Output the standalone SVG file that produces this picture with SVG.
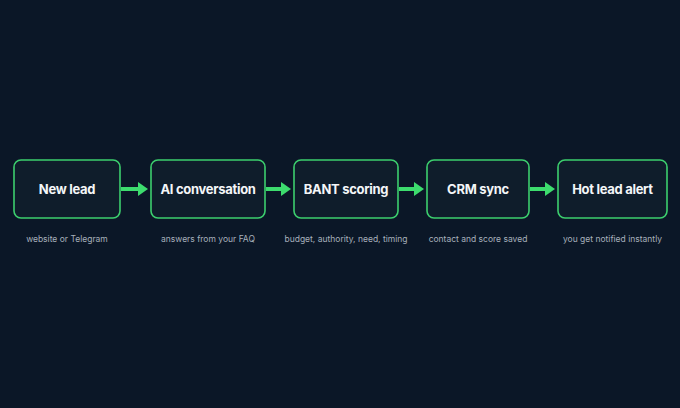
<svg xmlns="http://www.w3.org/2000/svg" width="680" height="408" viewBox="0 0 680 408">
<defs>
<style>
.box{fill:#0f1d2b;stroke:#3ccf6e;stroke-width:1.6}
.t{font-family:"Inter","Liberation Sans",sans-serif;font-weight:700;font-size:13px;letter-spacing:-0.3px;fill:#f4f6f8;text-anchor:middle}
.s{font-family:"Inter","Liberation Sans",sans-serif;font-size:8.5px;fill:#a7b0bb;text-anchor:middle}
.c{stroke:#3ddc6e;stroke-width:4;fill:none}
</style>
<marker id="ah" markerWidth="10" markerHeight="14" refX="0" refY="7" orient="auto" markerUnits="userSpaceOnUse">
<path d="M0,0 L10,7 L0,14 Z" fill="#3ddc6e"/>
</marker>
</defs>
<rect width="680" height="408" fill="#0b1727"/>
<g id="connectors">
<line class="c" x1="121" y1="189" x2="138" y2="189" marker-end="url(#ah)"/>
<line class="c" x1="266" y1="189" x2="281" y2="189" marker-end="url(#ah)"/>
<line class="c" x1="399" y1="189" x2="414" y2="189" marker-end="url(#ah)"/>
<line class="c" x1="530" y1="189" x2="545" y2="189" marker-end="url(#ah)"/>
</g>
<g id="n1"><rect class="box" x="14" y="160" width="106" height="58" rx="7"/><text class="t" x="67" y="193.5">New lead</text><text class="s" x="67" y="241.5">website or Telegram</text></g>
<g id="n2"><rect class="box" x="151" y="160" width="114" height="58" rx="7"/><text class="t" x="208" y="193.5">AI conversation</text><text class="s" x="208" y="241.5">answers from your FAQ</text></g>
<g id="n3"><rect class="box" x="294" y="160" width="104" height="58" rx="7"/><text class="t" x="346" y="193.5">BANT scoring</text><text class="s" x="346" y="241.5">budget, authority, need, timing</text></g>
<g id="n4"><rect class="box" x="427" y="160" width="102" height="58" rx="7"/><text class="t" x="478" y="193.5">CRM sync</text><text class="s" x="478" y="241.5">contact and score saved</text></g>
<g id="n5"><rect class="box" x="558" y="160" width="109" height="58" rx="7"/><text class="t" x="612.5" y="193.5">Hot lead alert</text><text class="s" x="612.5" y="241.5">you get notified instantly</text></g>
</svg>
